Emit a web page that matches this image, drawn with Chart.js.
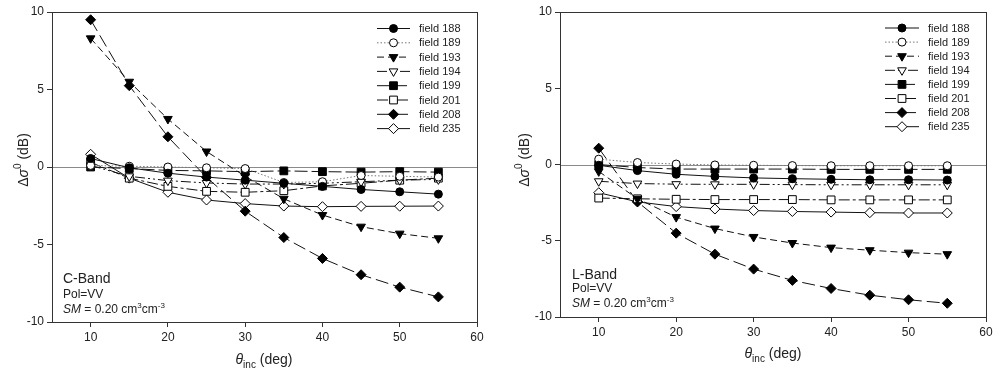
<!DOCTYPE html>
<html>
<head>
<meta charset="utf-8">
<script src="https://cdn.jsdelivr.net/npm/chart.js@4/dist/chart.umd.min.js"></script>
<style>
  html, body { margin: 0; padding: 0; background: #fff; }
  #wrap { position: relative; width: 1000px; height: 376px; }
  canvas { position: absolute; top: 0; }
</style>
</head>
<body>
<div id="wrap">
  <canvas id="cband" width="500" height="376" style="left:0"></canvas>
  <canvas id="lband" width="500" height="376" style="left:500px"></canvas>
</div>
<script>
// ---------- DATA ----------
const angles = [10, 15, 20, 25, 30, 35, 40, 45, 50, 55];
const fieldNames = ['field 188', 'field 189', 'field 193', 'field 194', 'field 199', 'field 201', 'field 208', 'field 235'];
const xTicks = [10, 20, 30, 40, 50, 60];
const yTicks = [-10, -5, 0, 5, 10];

// C-Band (left panel)
const c188 = [0.55, -0.05, -0.4, -0.65, -0.85, -1.05, -1.25, -1.45, -1.6, -1.75];
const c189 = [0.1, 0.05, 0.0, -0.05, -0.1, -1.0, -0.95, -0.55, -0.6, -0.65];
const c193 = [8.3, 5.5, 3.1, 1.0, -0.6, -2.05, -3.1, -3.85, -4.3, -4.6];
const c194 = [0.1, -0.6, -0.88, -1.03, -1.1, -1.1, -1.05, -0.95, -0.85, -0.8];
const c199 = [0.0, -0.1, -0.22, -0.25, -0.3, -0.25, -0.3, -0.33, -0.3, -0.33];
const c201 = [0.3, -0.72, -1.25, -1.57, -1.63, -1.53, -1.22, -1.05, -0.85, -0.72];
const c208 = [9.5, 5.25, 1.95, -0.67, -2.85, -4.55, -5.9, -6.95, -7.75, -8.38];
const c235 = [0.82, -0.72, -1.63, -2.13, -2.36, -2.52, -2.56, -2.54, -2.53, -2.52];

// L-Band (right panel)
const l188 = [-0.05, -0.4, -0.64, -0.78, -0.88, -0.93, -0.97, -1.0, -1.0, -1.02];
const l189 = [0.35, 0.13, 0.03, -0.03, -0.05, -0.07, -0.08, -0.08, -0.08, -0.08];
const l193 = [-0.45, -2.25, -3.45, -4.2, -4.75, -5.15, -5.45, -5.62, -5.78, -5.88];
const l194 = [-1.1, -1.25, -1.29, -1.3, -1.3, -1.32, -1.33, -1.33, -1.33, -1.33];
const l199 = [0.0, -0.2, -0.3, -0.3, -0.3, -0.3, -0.32, -0.32, -0.32, -0.32];
const l201 = [-2.2, -2.25, -2.28, -2.3, -2.3, -2.3, -2.32, -2.32, -2.32, -2.32];
const l208 = [1.07, -2.45, -4.5, -5.88, -6.86, -7.6, -8.13, -8.57, -8.87, -9.1];
const l235 = [-1.85, -2.45, -2.76, -2.92, -3.02, -3.08, -3.12, -3.16, -3.18, -3.18];

// ---------- STYLES ----------
const styles = [
  { dash: [],               pointStyle: 'circle',   fill: '#000', r: 4,   rot: 0 },   // 188
  { dash: [1.5, 2],         pointStyle: 'circle',   fill: '#fff', r: 4,   rot: 0, color: '#777' }, // 189
  { dash: [7, 4],           pointStyle: 'triangle', fill: '#000', r: 5,   rot: 180 }, // 193
  { dash: [10, 3, 2, 3, 2, 3], pointStyle: 'triangle', fill: '#fff', r: 5, rot: 180 }, // 194
  { dash: [13, 4],          pointStyle: 'rect',     fill: '#000', r: 5.5, rot: 0 },   // 199
  { dash: [11, 3, 3, 3],    pointStyle: 'rect',     fill: '#fff', r: 5.5, rot: 0 },   // 201
  { dash: [13, 5],          pointStyle: 'rectRot',  fill: '#000', r: 5,   rot: 0 },   // 208
  { dash: [],               pointStyle: 'rectRot',  fill: '#fff', r: 5,   rot: 0 }    // 235
];

const FONT = "'Liberation Sans', Arial, sans-serif";
const TXT = '#222';

function makeDatasets(series) {
  return series.map((vals, i) => {
    const s = styles[i];
    return {
      label: fieldNames[i],
      data: angles.map((a, k) => ({ x: a, y: vals[k] })),
      borderColor: s.color || '#111',
      borderWidth: 1,
      borderDash: s.dash,
      pointStyle: s.pointStyle,
      pointRotation: s.rot,
      pointRadius: s.r,
      pointBackgroundColor: s.fill,
      pointBorderColor: '#000',
      pointBorderWidth: 1,
      tension: 0,
      fill: false
    };
  });
}

function decorPlugin(cfg) {
  return {
    id: 'decor',
    beforeDatasetsDraw(chart) {
      const { ctx, chartArea: a, scales } = chart;
      const y0 = scales.y.getPixelForValue(0);
      ctx.save();
      ctx.strokeStyle = '#8a8a8a';
      ctx.lineWidth = 1;
      ctx.beginPath();
      ctx.moveTo(a.left, Math.round(y0) + 0.5);
      ctx.lineTo(a.right, Math.round(y0) + 0.5);
      ctx.stroke();
      ctx.restore();
    },
    afterDraw(chart) {
      const { ctx, chartArea: a } = chart;
      ctx.save();
      // frame
      ctx.strokeStyle = '#333';
      ctx.lineWidth = 1;
      ctx.strokeRect(Math.round(a.left) + 0.5, Math.round(a.top) + 0.5,
                     Math.round(a.right - a.left), Math.round(a.bottom - a.top));

      // legend
      const lg = cfg.legend;
      chart.data.datasets.forEach((ds, i) => {
        const y = lg.y + i * lg.dy;
        ctx.save();
        ctx.strokeStyle = ds.borderColor;
        ctx.lineWidth = 1;
        ctx.setLineDash(ds.borderDash);
        ctx.beginPath();
        ctx.moveTo(lg.x1, y);
        ctx.lineTo(lg.x2, y);
        ctx.stroke();
        ctx.restore();
        ctx.save();
        ctx.fillStyle = ds.pointBackgroundColor;
        ctx.strokeStyle = '#000';
        ctx.lineWidth = 1;
        Chart.helpers.drawPoint(ctx, {
          pointStyle: ds.pointStyle, rotation: ds.pointRotation,
          radius: ds.pointRadius, borderWidth: 1
        }, (lg.x1 + lg.x2) / 2, y);
        ctx.restore();
        ctx.fillStyle = TXT;
        ctx.font = '11px ' + FONT;
        ctx.textBaseline = 'middle';
        ctx.textAlign = 'left';
        ctx.fillText(ds.label, lg.tx, y + 0.5);
      });

      // annotations
      const an = cfg.note;
      ctx.fillStyle = TXT;
      ctx.textAlign = 'left';
      ctx.textBaseline = 'middle';
      ctx.font = '14px ' + FONT;
      ctx.fillText(cfg.band, an.x, an.y1);
      ctx.font = '12px ' + FONT;
      ctx.fillText('Pol=VV', an.x, an.y2);
      let x = an.x;
      ctx.font = 'italic 12px ' + FONT;
      ctx.fillText('SM', x, an.y3); x += ctx.measureText('SM').width;
      ctx.font = '12px ' + FONT;
      ctx.fillText(' = 0.20 cm', x, an.y3); x += ctx.measureText(' = 0.20 cm').width;
      ctx.font = '8px ' + FONT;
      ctx.fillText('3', x, an.y3 - 4); x += ctx.measureText('3').width;
      ctx.font = '12px ' + FONT;
      ctx.fillText('cm', x, an.y3); x += ctx.measureText('cm').width;
      ctx.font = '8px ' + FONT;
      ctx.fillText('-3', x, an.y3 - 4);

      // x-axis title: θinc (deg)
      const xt = cfg.xTitle;
      ctx.font = 'italic 14px ' + FONT;
      const w1 = ctx.measureText('θ').width;
      ctx.font = '10px ' + FONT;
      const w2 = ctx.measureText('inc').width;
      ctx.font = '14px ' + FONT;
      const w3 = ctx.measureText(' (deg)').width;
      let sx = xt.x - (w1 + w2 + w3) / 2;
      ctx.textBaseline = 'alphabetic';
      ctx.font = 'italic 14px ' + FONT;
      ctx.fillText('θ', sx, xt.y); sx += w1;
      ctx.font = '10px ' + FONT;
      ctx.fillText('inc', sx, xt.y + 4); sx += w2;
      ctx.font = '14px ' + FONT;
      ctx.fillText(' (deg)', sx, xt.y);

      // y-axis title: Δσ0 (dB)
      const yt = cfg.yTitle;
      ctx.save();
      ctx.translate(yt.x, yt.y);
      ctx.rotate(-Math.PI / 2);
      ctx.font = '14px ' + FONT;
      const a1 = ctx.measureText('Δ').width;
      ctx.font = 'italic 14px ' + FONT;
      const a2 = ctx.measureText('σ').width;
      ctx.font = '10px ' + FONT;
      const a3 = ctx.measureText('0').width;
      ctx.font = '14px ' + FONT;
      const a4 = ctx.measureText(' (dB)').width;
      let px = -(a1 + a2 + a3 + a4) / 2;
      ctx.textBaseline = 'middle';
      ctx.font = '14px ' + FONT;
      ctx.fillText('Δ', px, 0); px += a1;
      ctx.font = 'italic 14px ' + FONT;
      ctx.fillText('σ', px, 0); px += a2;
      ctx.font = '10px ' + FONT;
      ctx.fillText('0', px, -6); px += a3;
      ctx.font = '14px ' + FONT;
      ctx.fillText(' (dB)', px, 0);
      ctx.restore();

      ctx.restore();
    }
  };
}

function makeChart(id, series, cfg) {
  return new Chart(document.getElementById(id), {
    type: 'line',
    data: { datasets: makeDatasets(series) },
    options: {
      responsive: false,
      animation: false,
      devicePixelRatio: 1,
      layout: { padding: { top: cfg.pad.top, right: cfg.pad.right, left: 0, bottom: 0 } },
      plugins: { legend: { display: false }, tooltip: { enabled: false } },
      scales: {
        x: {
          type: 'linear', min: 5, max: 60,
          afterBuildTicks: (s) => { s.ticks = xTicks.map(v => ({ value: v })); },
          afterFit: (s) => { s.height = cfg.xH; },
          grid: { display: true, drawOnChartArea: false, drawTicks: true, tickLength: 5, color: '#333' },
          border: { display: true, color: '#333' },
          ticks: { color: TXT, font: { family: FONT, size: 12 }, padding: 3, maxRotation: 0 }
        },
        y: {
          type: 'linear', min: -10, max: 10,
          afterBuildTicks: (s) => { s.ticks = yTicks.map(v => ({ value: v })); },
          afterFit: (s) => { s.width = cfg.yW; },
          grid: { display: true, drawOnChartArea: false, drawTicks: true, tickLength: 5, color: '#333' },
          border: { display: true, color: '#333' },
          ticks: { color: TXT, font: { family: FONT, size: 12 }, padding: 3 }
        }
      }
    },
    plugins: [decorPlugin(cfg)]
  });
}

makeChart('cband', [c188, c189, c193, c194, c199, c201, c208, c235], {
  pad: { top: 12, right: 23 }, yW: 52, xH: 54,
  band: 'C-Band',
  legend: { x1: 377, x2: 410, tx: 419, y: 28.5, dy: 14.3 },
  note: { x: 63, y1: 279, y2: 295, y3: 310 },
  xTitle: { x: 264, y: 364 },
  yTitle: { x: 24, y: 160 }
});

makeChart('lband', [l188, l189, l193, l194, l199, l201, l208, l235], {
  pad: { top: 12, right: 14 }, yW: 60, xH: 59,
  band: 'L-Band',
  legend: { x1: 385, x2: 419, tx: 428, y: 28, dy: 14.1 },
  note: { x: 72, y1: 275, y2: 289, y3: 304 },
  xTitle: { x: 273, y: 358 },
  yTitle: { x: 25, y: 160 }
});
</script>
</body>
</html>
